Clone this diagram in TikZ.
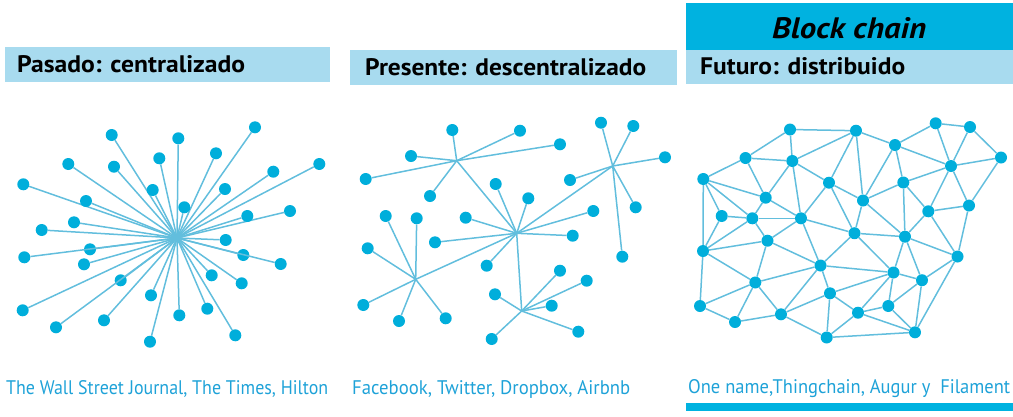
\documentclass[tikz,border=0pt]{standalone}
\usepackage{fontspec}
\setmainfont{PT Sans}
\usepackage{graphicx}
\definecolor{lightbox}{HTML}{A8DBEF}
\definecolor{cyanbox}{HTML}{00B2E0}
\definecolor{dotc}{HTML}{00AEDB}
\definecolor{linec}{HTML}{62BEDD}
\definecolor{txtc}{HTML}{1EA2D8}
\tikzset{
  dot/.style={circle,fill=dotc,draw=none,inner sep=0pt,minimum size=12pt},
  link/.style={draw=linec,line width=1.5pt},
  hdrtext/.style={anchor=base west,inner sep=0pt,font=\bfseries,text=black},
  srctext/.style={anchor=base west,inner sep=0pt,text=txtc},
}
\begin{document}
\begin{tikzpicture}[x=1pt,y=-1pt]
\useasboundingbox (0,0) rectangle (1013,416);
% header boxes
\fill[lightbox] (5,47) rectangle (330,82);
\fill[lightbox] (350,50) rectangle (677,85);
\fill[cyanbox] (686,3) rectangle (1013,50);
\fill[lightbox] (686,50) rectangle (1013,84);
\fill[cyanbox] (686,403) rectangle (1013,411);
% header texts
\node[hdrtext] (h1) at (17,72) {\resizebox{228pt}{17pt}{Pasado: centralizado}};
\node[hdrtext] (h2) at (365,75) {\resizebox{281pt}{17pt}{Presente: descentralizado}};
\node[hdrtext] (h3) at (700,74) {\resizebox{205pt}{17pt}{Futuro: distribuido}};
\node[hdrtext] (h4) at (772,38) {\resizebox{154pt}{21pt}{\itshape Block chain}};
% source texts
\node[srctext] (s1) at (6,394) {\resizebox{322pt}{14pt}{The Wall Street Journal, The Times, Hilton}};
\node[srctext] (s2) at (352,394) {\resizebox{278pt}{14pt}{Facebook, Twitter, Dropbox, Airbnb}};
\node[srctext] (s3) at (688,393) {\resizebox{322pt}{14pt}{One name,Thingchain, Augur y\ \ Filament}};

% ---------- network 1: centralized ----------
\coordinate (c1) at (177,238);
\foreach \i/\x/\y in {1/111.7/135, 2/178.3/138.3, 3/255/127.3, 4/159.3/158.3, 5/216/153.3,
  6/68.3/164, 7/114/166.7, 8/319.3/164, 9/273.3/171.7, 10/23.3/184.3, 11/152.7/190,
  12/225/189, 13/86/201, 14/184.3/207.3, 15/290/211, 16/247.3/216, 17/74/222.3,
  18/41.7/230, 19/225.7/240, 20/90/249.3, 21/24.3/257.3, 22/243.3/255, 23/280.7/264,
  24/84/264.3, 25/211.7/275.3, 26/120.7/280.3, 27/241.7/283.3, 28/151/295.3,
  29/22.7/310.3, 30/179.3/315.3, 31/207.3/308.7, 32/104/320.3, 33/56/327.3,
  34/235.3/335.3, 35/150/341.7}
  {\node[dot] (p\i) at (\x,\y) {};
   \draw[link] (c1) -- (p\i);}

% ---------- network 2: decentralized ----------
\coordinate (hA) at (456.7,160.7);
\coordinate (hB) at (516.7,233.3);
\coordinate (hC) at (612.7,166);
\coordinate (hD) at (415.7,279.3);
\coordinate (hE) at (521.7,311);
\draw[link] (hA) -- (hB);
\draw[link] (hB) -- (hC);
\draw[link] (hB) -- (hD);
\draw[link] (hB) -- (hE);
\foreach \i/\h/\x/\y in {1/hA/452.3/130, 2/hA/520/130.7, 3/hA/560/144.3, 4/hA/411/156,
  5/hA/365.7/179, 6/hA/430/196,
  7/hB/495.7/184, 8/hB/528.3/198.3, 9/hB/465.7/217.7, 10/hB/593.3/211, 11/hB/435/242.3,
  12/hB/572.7/235.7, 13/hB/486.7/265.7,
  14/hC/601/122.7, 15/hC/633.3/126, 16/hC/665/157.3, 17/hC/570/180, 18/hC/635.7/207.3,
  19/hC/622.3/256.7,
  20/hD/385.7/216, 21/hD/416.7/218.3, 22/hD/367.7/248.3, 23/hD/363.3/305, 24/hD/399/321,
  25/hD/445.7/318.3,
  26/hE/495/294.3, 27/hE/560/270.7, 28/hE/586.7/280.7, 29/hE/551.7/305.7, 30/hE/578.3/331.7,
  31/hE/491.7/339}
  {\node[dot] (q\i) at (\x,\y) {};
   \draw[link] (\h) -- (q\i);}

% ---------- network 3: distributed ----------
\foreach \n/\x/\y in {A/790/129.5, B/856/130.7, C/935.7/123.3, D/970/127, E/895/145,
  F/745.5/158, G/792.3/161, H/1001/157.5, I/951/166, J/703.3/179, K/829/182.7,
  L/903.3/182.5, M/765.7/197.7, N/863/200.5, O/969/205.5, P/721.7/216, Q/752.3/218.3,
  R/801/218.3, S/928.3/211.3, T/854.5/233.2, U/905/236.7, V/767.5/240.7, W/703/251,
  X/957.5/256.5, Y/820.5/265.5, Z/893.5/272.5, a/922/280.2, b/755.3/282.5, c/830/293.3,
  d/700/306, e/888.3/306, f/858/312.7, g/781/314.3, h/735/322, i/915/332.3, j/826.7/337.5}
  {\node[dot] (r\n) at (\x,\y) {};}
\foreach \u/\v in {A/B, A/F, A/G, F/G, G/B, B/K, B/N, B/E, G/K, G/M, G/R, F/J, F/M,
  E/C, E/I, E/L, E/N, C/D, C/I, D/I, D/H, H/I, H/O, I/L, I/S, I/O,
  L/N, L/S, L/U, N/U, N/T, K/N, K/T, K/R,
  J/M, J/P, J/Q, J/W, M/Q, M/R, P/Q, P/W, Q/R, Q/W, Q/V, R/V, R/T, R/Y,
  S/O, S/U, S/X, O/X, T/U, T/Y, T/Z, U/X, U/Z, U/a,
  W/V, W/b, W/d, V/b, V/Y, Y/b, Y/c, Y/g, Y/Z, c/Z, b/d, b/h, b/g, d/h, h/g, g/c, g/j,
  c/j, c/f, j/f, j/i, Z/a, Z/e, Z/f, a/e, a/i, a/X, X/i, e/f, e/i, f/i}
  {\draw[link] (r\u) -- (r\v);}
\end{tikzpicture}
\end{document}
